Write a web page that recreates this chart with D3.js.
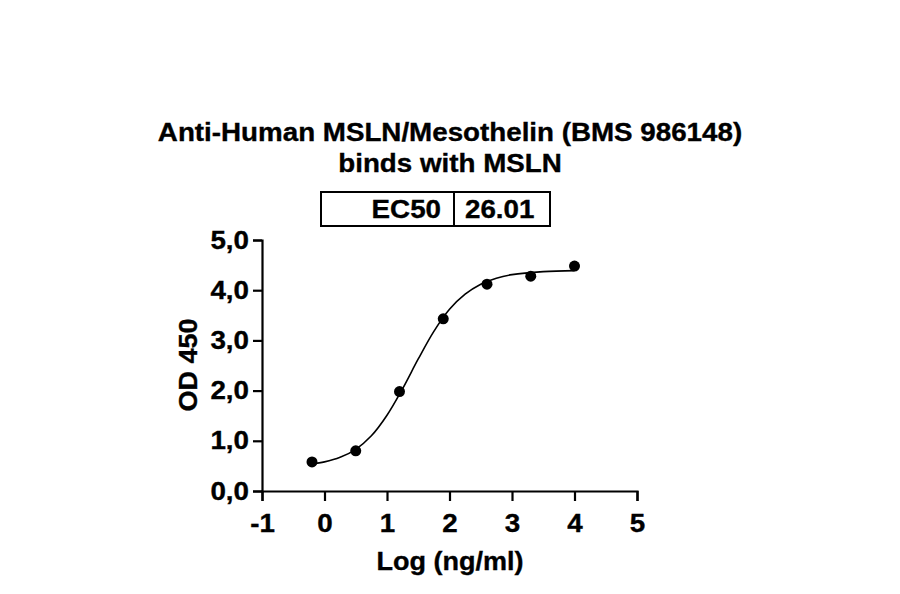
<!DOCTYPE html>
<html>
<head>
<meta charset="utf-8">
<script src="https://cdn.jsdelivr.net/npm/d3@7"></script>
<style>
  html, body { margin: 0; padding: 0; background: #fff; }
  svg text { font-family: "Liberation Sans", Arial, sans-serif; font-weight: bold; fill: #000;
             stroke: #000; stroke-width: 0.35px; }
</style>
</head>
<body>
<div id="chart"></div>
<script>
// Datos
const titleLines = ["Anti-Human MSLN/Mesothelin (BMS 986148)", "binds with MSLN"];
const tableLabel = "EC50";
const tableValue = "26.01";
const xTicks = [-1, 0, 1, 2, 3, 4, 5];
const yTicks = [0, 1, 2, 3, 4, 5];
// puntos medidos (log ng/ml, OD 450)
const logConc = [-0.2, 0.5, 1.2, 1.9, 2.6, 3.3, 4.0];
const od450 = [0.58, 0.80, 1.98, 3.43, 4.12, 4.28, 4.48];
// curva ajustada
const fitX = [-0.2, 0, 0.25, 0.5, 0.75, 1.0, 1.25, 1.5, 1.75, 2.0, 2.25, 2.5, 2.75, 3.0, 3.5, 4.0];
const fitY = [0.54, 0.58, 0.67, 0.83, 1.10, 1.51, 2.04, 2.63, 3.18, 3.62, 3.92, 4.12, 4.24, 4.31, 4.37, 4.39];

const W = 900, H = 594;
const SX = 1.11; // el texto del original es mas ancho que Arial
const FS = "25px";

const svg = d3.select("#chart").append("svg")
    .attr("width", W)
    .attr("height", H);

// Escalas
const x = d3.scaleLinear().domain([-1, 5]).range([262, 637]);
const y = d3.scaleLinear().domain([0, 5]).range([491, 240]);

// Titulo
svg.selectAll("text.title")
    .data(titleLines)
    .join("text")
    .attr("class", "title")
    .attr("text-anchor", "middle")
    .attr("transform", (d, i) => `translate(450,${141 + i * 31}) scale(${SX},1)`)
    .style("font-size", FS)
    .text(d => d);

// Tabla EC50
const box = svg.append("g");
box.append("rect")
    .attr("x", 321).attr("y", 192)
    .attr("width", 229).attr("height", 34)
    .attr("fill", "none").attr("stroke", "#000").attr("stroke-width", 2);
box.append("line")
    .attr("x1", 454).attr("x2", 454).attr("y1", 192).attr("y2", 226)
    .attr("stroke", "#000").attr("stroke-width", 2);
box.append("text")
    .attr("text-anchor", "end")
    .attr("transform", `translate(441,218) scale(${SX},1)`)
    .style("font-size", FS)
    .text(tableLabel);
box.append("text")
    .attr("text-anchor", "start")
    .attr("transform", `translate(465,218) scale(${SX},1)`)
    .style("font-size", FS)
    .text(tableValue);

// Ejes
const xAxis = svg.append("g")
    .attr("transform", `translate(0,${y(0)})`)
    .call(d3.axisBottom(x).tickValues(xTicks).tickSize(10).tickPadding(13)
        .tickFormat(d => String(d)));
const yAxis = svg.append("g")
    .attr("transform", `translate(${x(-1)},0)`)
    .call(d3.axisLeft(y).tickValues(yTicks).tickSize(9).tickPadding(4)
        .tickFormat(d => d.toFixed(1).replace(".", ",")));

[xAxis, yAxis].forEach(a => {
    a.attr("font-family", null).attr("font-size", null);
    a.select(".domain").attr("stroke", "#000").attr("stroke-width", 2.2);
    a.selectAll(".tick line").attr("stroke", "#000").attr("stroke-width", 2.2);
    a.selectAll(".tick text").style("font-size", FS);
});
xAxis.selectAll(".tick text")
    .attr("transform", `scale(${SX},1)`);
yAxis.selectAll(".tick text")
    .attr("x", -13 / SX)
    .attr("transform", `scale(${SX},1)`);

// Titulos de ejes
svg.append("text")
    .attr("text-anchor", "middle")
    .attr("transform", `translate(450,570) scale(1.06,1)`)
    .style("font-size", "25.5px")
    .text("Log (ng/ml)");
svg.append("text")
    .attr("text-anchor", "middle")
    .attr("transform", `translate(197,365) rotate(-90) scale(1.06,1)`)
    .style("font-size", "25.5px")
    .text("OD 450");

// Curva ajustada
const fit = fitX.map((v, i) => ({ x: v, y: fitY[i] }));
svg.append("path")
    .datum(fit)
    .attr("fill", "none")
    .attr("stroke", "#000")
    .attr("stroke-width", 1.6)
    .attr("d", d3.line().x(d => x(d.x)).y(d => y(d.y)).curve(d3.curveCatmullRom.alpha(0.5)));

// Puntos
svg.append("g")
    .selectAll("circle")
    .data(logConc.map((v, i) => ({ x: v, y: od450[i] })))
    .join("circle")
    .attr("cx", d => x(d.x))
    .attr("cy", d => y(d.y))
    .attr("r", 5.5)
    .attr("fill", "#000");
</script>
</body>
</html>
